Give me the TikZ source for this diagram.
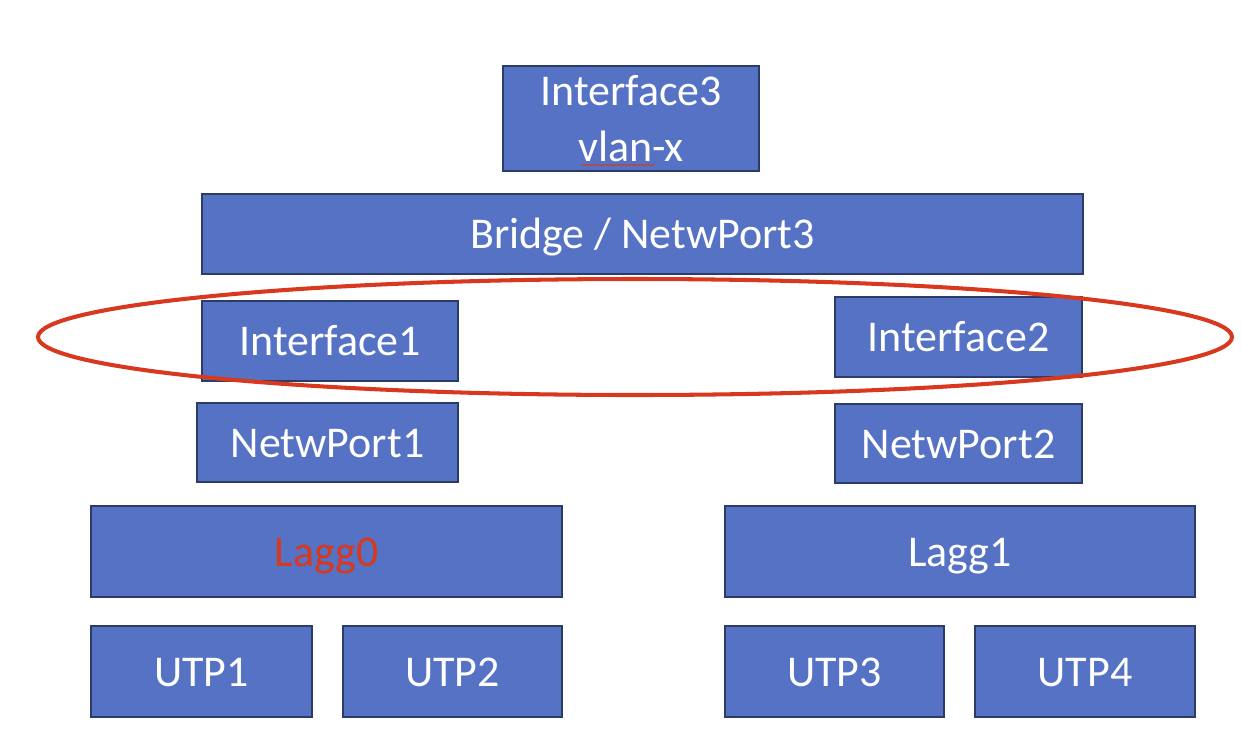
\documentclass[tikz,border=0pt]{standalone}
\usepackage{fontspec}
\setmainfont{Carlito}
\usetikzlibrary{decorations.pathmorphing}
\definecolor{bleu}{HTML}{5572C4}
\definecolor{bord}{HTML}{2C3C68}
\definecolor{rouge}{HTML}{D7381E}

\begin{document}
\begin{tikzpicture}[x=1cm,y=1cm,
	bloc/.style = {draw = bord, line width = 0.8pt, fill = bleu, text = white,
		inner sep = 0pt, align = center,
		font = \fontsize{25}{32}\selectfont},
	ligne/.style = {bloc, text height = 18.75pt, text depth = 1.75pt},
	anneau/.style = {draw = rouge, line width = 2.3pt}]
\useasboundingbox (0,0) rectangle (24.84,-14.74);
%The top
	\node[bloc, minimum width = 5.12cm, minimum height = 2.10cm] (int3) at (12.62,-2.37) {Interface3\\vlan-x};
	\node[ligne, minimum width = 17.62cm, minimum height = 1.60cm] (bridge) at (12.85,-4.68) {Bridge / NetwPort3};
%The left branch
	\node[ligne, minimum width = 5.12cm, minimum height = 1.60cm] (int1) at (6.60,-6.82) {Interface1};
	\node[ligne, minimum width = 5.22cm, minimum height = 1.58cm] (np1) at (6.55,-8.85) {NetwPort1};
	\node[ligne, minimum width = 9.42cm, minimum height = 1.82cm, text = rouge] (lagg0) at (6.53,-11.03) {Lagg0};
	\node[ligne, minimum width = 4.42cm, minimum height = 1.82cm] (utp1) at (4.03,-13.43) {UTP1};
	\node[ligne, minimum width = 4.38cm, minimum height = 1.82cm] (utp2) at (9.05,-13.43) {UTP2};
%The right branch
	\node[ligne, minimum width = 4.94cm, minimum height = 1.60cm] (int2) at (19.17,-6.74) {Interface2};
	\node[ligne, minimum width = 4.94cm, minimum height = 1.58cm] (np2) at (19.17,-8.87) {NetwPort2};
	\node[ligne, minimum width = 9.40cm, minimum height = 1.82cm] (lagg1) at (19.20,-11.03) {Lagg1};
	\node[ligne, minimum width = 4.38cm, minimum height = 1.82cm] (utp3) at (16.69,-13.43) {UTP3};
	\node[ligne, minimum width = 4.40cm, minimum height = 1.82cm] (utp4) at (21.70,-13.43) {UTP4};
%The spelling mark
	\draw[rouge, line width = 0.5pt, decorate,
		decoration = {snake, amplitude = 0.35pt, segment length = 2pt}]
		(11.62,-3.30) -- (13.10,-3.30);
%The ring
	\draw[anneau] (12.70,-6.74) ellipse (11.94 and 1.16);
\end{tikzpicture}
\end{document}
